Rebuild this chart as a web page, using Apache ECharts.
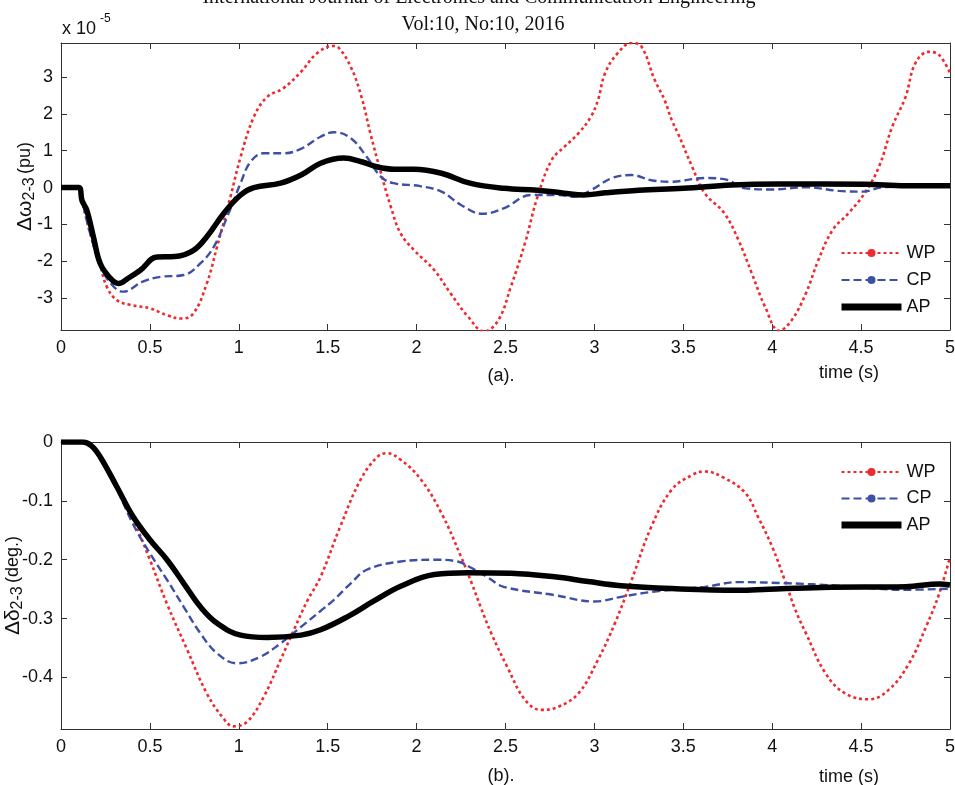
<!DOCTYPE html>
<html><head><meta charset="utf-8">
<script src="https://cdn.jsdelivr.net/npm/echarts@6/dist/echarts.min.js"></script>
<style>html,body{margin:0;padding:0;background:#fff}#c{width:955px;height:785px}</style>
</head><body><div id="c"></div>
<script>
const legendNames = ['WP', 'CP', 'AP'];
const omegaTicks = [-3, -2, -1, 0, 1, 2, 3];
const deltaTicks = [-0.4, -0.3, -0.2, -0.1, 0];

// (a) Δω2-3 (pu, x 1e-5) vs time (s)
const omegaWP = [[0,0],[0.1,0],[0.118,-0.35],[0.164,-1.24],[0.22,-2.1],[0.258,-2.69],[0.314,-3.05],[0.39,-3.18],[0.5,-3.27],[0.596,-3.46],[0.68,-3.55],[0.745,-3.41],[0.82,-2.6],[0.878,-1.6],[0.953,-0.25],[1.01,0.83],[1.085,1.92],[1.16,2.46],[1.25,2.69],[1.35,3.14],[1.44,3.64],[1.53,3.84],[1.56,3.8],[1.63,3.27],[1.69,2.46],[1.74,1.47],[1.8,0.39],[1.855,-0.52],[1.91,-1.24],[1.985,-1.69],[2.1,-2.24],[2.19,-2.86],[2.29,-3.5],[2.38,-3.9],[2.46,-3.59],[2.53,-2.69],[2.61,-1.5],[2.68,-0.25],[2.76,0.75],[2.83,1.1],[2.91,1.47],[2.98,1.92],[3.02,2.37],[3.06,3.1],[3.13,3.64],[3.21,3.92],[3.265,3.82],[3.34,2.91],[3.395,2.37],[3.435,1.83],[3.47,1.47],[3.55,0.56],[3.62,-0.15],[3.73,-0.69],[3.81,-1.42],[3.885,-2.32],[3.96,-3.23],[4.04,-3.88],[4.11,-3.59],[4.19,-2.86],[4.26,-1.96],[4.34,-1.15],[4.43,-0.69],[4.52,-0.15],[4.6,0.56],[4.675,1.65],[4.75,2.46],[4.805,3.37],[4.88,3.68],[4.94,3.59],[5,3.1]];
const omegaCP = [[0,0],[0.1,0],[0.118,-0.35],[0.164,-1.24],[0.22,-2.1],[0.28,-2.6],[0.35,-2.82],[0.46,-2.55],[0.56,-2.42],[0.69,-2.37],[0.785,-2.05],[0.86,-1.6],[0.935,-0.79],[1.01,0.12],[1.066,0.7],[1.14,0.93],[1.25,0.93],[1.35,1.05],[1.46,1.38],[1.535,1.5],[1.63,1.34],[1.72,0.83],[1.8,0.29],[1.87,0.12],[2.02,0.04],[2.14,-0.11],[2.25,-0.47],[2.37,-0.71],[2.49,-0.56],[2.645,-0.2],[2.8,-0.2],[2.89,-0.25],[2.98,-0.07],[3.1,0.26],[3.21,0.34],[3.32,0.2],[3.43,0.16],[3.62,0.26],[3.73,0.23],[3.85,-0.02],[4.0,-0.05],[4.19,0.01],[4.375,-0.09],[4.51,-0.11],[4.62,0.01],[5,0.05]];
const omegaAP = [[0,0],[0.1,0],[0.118,-0.35],[0.145,-0.61],[0.183,-1.35],[0.22,-2.05],[0.276,-2.45],[0.323,-2.6],[0.38,-2.45],[0.446,-2.24],[0.54,-1.88],[0.64,-1.87],[0.745,-1.7],[0.82,-1.33],[0.915,-0.7],[1.01,-0.2],[1.085,0.0],[1.235,0.12],[1.35,0.34],[1.46,0.66],[1.59,0.8],[1.69,0.7],[1.78,0.56],[1.875,0.5],[1.985,0.5],[2.14,0.39],[2.3,0.12],[2.49,-0.02],[2.68,-0.07],[2.83,-0.15],[2.94,-0.2],[3.06,-0.14],[3.25,-0.07],[3.5,-0.02],[3.77,0.07],[4.03,0.1],[4.52,0.09],[4.75,0.05],[5,0.05]];

// (b) Δδ2-3 (deg.) vs time (s)
const deltaWP = [[0,0],[0.12,0],[0.17,-0.006],[0.22,-0.025],[0.314,-0.078],[0.406,-0.132],[0.5,-0.2],[0.596,-0.275],[0.71,-0.353],[0.82,-0.427],[0.915,-0.47],[0.97,-0.483],[1.047,-0.475],[1.14,-0.433],[1.235,-0.37],[1.31,-0.319],[1.385,-0.27],[1.46,-0.229],[1.57,-0.144],[1.685,-0.064],[1.78,-0.025],[1.83,-0.019],[1.91,-0.03],[2.025,-0.064],[2.14,-0.121],[2.25,-0.195],[2.31,-0.24],[2.36,-0.28],[2.42,-0.325],[2.51,-0.382],[2.61,-0.438],[2.7,-0.455],[2.795,-0.45],[2.91,-0.427],[3.02,-0.37],[3.115,-0.308],[3.21,-0.234],[3.32,-0.144],[3.435,-0.081],[3.55,-0.056],[3.62,-0.05],[3.73,-0.061],[3.85,-0.087],[3.92,-0.127],[4.0,-0.178],[4.07,-0.234],[4.13,-0.285],[4.19,-0.325],[4.3,-0.393],[4.41,-0.427],[4.545,-0.437],[4.655,-0.421],[4.77,-0.376],[4.865,-0.314],[4.94,-0.257],[5.0,-0.195]];
const deltaCP = [[0,0],[0.12,0],[0.17,-0.006],[0.22,-0.025],[0.314,-0.08],[0.406,-0.14],[0.5,-0.189],[0.596,-0.234],[0.69,-0.28],[0.784,-0.325],[0.878,-0.359],[0.99,-0.376],[1.12,-0.365],[1.235,-0.342],[1.35,-0.314],[1.46,-0.287],[1.535,-0.268],[1.63,-0.24],[1.72,-0.217],[1.91,-0.203],[2.1,-0.2],[2.23,-0.203],[2.31,-0.214],[2.4,-0.23],[2.49,-0.246],[2.775,-0.26],[3.0,-0.271],[3.15,-0.263],[3.34,-0.254],[3.62,-0.246],[3.81,-0.238],[4.09,-0.24],[4.37,-0.244],[4.75,-0.251],[5,-0.249]];
const deltaAP = [[0,0],[0.12,0],[0.17,-0.006],[0.22,-0.025],[0.314,-0.076],[0.406,-0.127],[0.5,-0.166],[0.596,-0.2],[0.69,-0.24],[0.784,-0.28],[0.878,-0.308],[1.01,-0.328],[1.16,-0.332],[1.35,-0.328],[1.46,-0.319],[1.61,-0.297],[1.76,-0.27],[1.91,-0.245],[2.1,-0.225],[2.29,-0.222],[2.53,-0.223],[2.775,-0.229],[2.965,-0.237],[3.15,-0.244],[3.435,-0.249],[3.81,-0.252],[3.98,-0.25],[4.28,-0.247],[4.75,-0.246],[4.94,-0.241],[5,-0.243]];

const FONT = '"Liberation Sans", Arial, sans-serif';
const AX = '#333';
const RED = '#ee2a2e', BLUE = '#3e4fa6', BLACK = '#000';

function xAxes(g) {
  const base = {gridIndex: g, type: 'value', min: 0, max: 5, interval: 0.5,
    axisLine: {show: true, onZero: false, lineStyle: {color: AX, width: 1}},
    axisTick: {show: true, inside: true, length: 6, lineStyle: {color: AX}},
    splitLine: {show: false}};
  return [
    Object.assign({}, base, {position: 'bottom', axisLabel: {margin: 9, fontSize: 18, fontFamily: FONT, color: '#111'}}),
    Object.assign({}, base, {position: 'top', axisLabel: {show: false}})
  ];
}
function yAxes(g, min, max, ticks, name) {
  const base = {gridIndex: g, type: 'value', min: min, max: max,
    axisLine: {show: true, onZero: false, lineStyle: {color: AX, width: 1}},
    axisTick: {show: true, inside: true, length: 6, customValues: ticks, lineStyle: {color: AX}},
    splitLine: {show: false}};
  return [
    Object.assign({}, base, {position: 'left',
      axisLabel: {customValues: ticks, margin: 8, fontSize: 18, fontFamily: FONT, color: '#111'},
      name: name.text, nameLocation: 'middle', nameRotate: 90, nameGap: name.gap, nameMoveOverlap: false,
      nameTextStyle: {fontFamily: FONT, color: '#111', rich: {
        g: {fontSize: 21, fontFamily: FONT, color: '#111'},
        s: {fontSize: 16, fontFamily: FONT, color: '#111', padding: [10, 0, 0, 0]},
        t: {fontSize: 18, fontFamily: FONT, color: '#111'}}}}),
    Object.assign({}, base, {position: 'right', axisLabel: {show: false}})
  ];
}
function mkSeries(name, data, g) {
  const s = {name: name, type: 'line', data: data, xAxisIndex: g * 2, yAxisIndex: g * 2,
    smooth: 0.4, showSymbol: false, animation: false, clip: true};
  if (name === 'WP') Object.assign(s, {symbol: 'circle', symbolSize: 8, itemStyle: {color: RED}, lineStyle: {color: RED, width: 2.6, type: [3, 3]}, z: 2});
  if (name === 'CP') Object.assign(s, {symbol: 'circle', symbolSize: 8, itemStyle: {color: BLUE}, lineStyle: {color: BLUE, width: 2.4, type: [8, 4]}, z: 3});
  if (name === 'AP') Object.assign(s, {symbol: 'none', itemStyle: {color: BLACK}, lineStyle: {color: BLACK, width: 5.5}, z: 4});
  return s;
}
function mkLegend(top, gap) {
  return {orient: 'vertical', left: 833, top: top, itemWidth: 60, itemHeight: 10, itemGap: gap,
    selectedMode: false, textStyle: {fontSize: 18, fontFamily: FONT, color: '#111'},
    data: legendNames.map(n => n === 'AP' ? {name: n, lineStyle: {width: 7}, itemStyle: {opacity: 0}} : {name: n})};
}

const chart = echarts.init(document.getElementById('c'), null, {renderer: 'canvas'});
chart.setOption({
  animation: false,
  backgroundColor: '#fff',
  grid: [
    {left: 61, top: 43, width: 889, height: 287, containLabel: false, outerBoundsMode: 'none'},
    {left: 61, top: 442, width: 889, height: 287, containLabel: false, outerBoundsMode: 'none'}
  ],
  xAxis: xAxes(0).concat(xAxes(1)),
  yAxis: yAxes(0, -3.86, 3.92, omegaTicks, {text: '{g|Δω}{s|2-3} {t|(pu)}', gap: 23})
    .concat(yAxes(1, -0.4875, 0, deltaTicks, {text: '{g|Δδ}{s|2-3} {t|(deg.)}', gap: 35})),
  legend: [mkLegend(239, 9), mkLegend(458, 8.5)],
  series: [
    mkSeries('WP', omegaWP, 0), mkSeries('CP', omegaCP, 0), mkSeries('AP', omegaAP, 0),
    mkSeries('WP', deltaWP, 1), mkSeries('CP', deltaCP, 1), mkSeries('AP', deltaAP, 1)
  ],
  graphic: [
    {type: 'text', x: 479, y: -2, style: {text: 'International Journal of Electronics and Communication Engineering', font: '20px "Liberation Serif", serif', fill: '#111', textAlign: 'center', textVerticalAlign: 'middle'}},
    {type: 'text', x: 483, y: 25, style: {text: 'Vol:10, No:10, 2016', font: '20px "Liberation Serif", serif', fill: '#111', textAlign: 'center', textVerticalAlign: 'middle'}},
    {type: 'text', x: 62, y: 29, style: {text: 'x 10', font: '18px "Liberation Sans", sans-serif', fill: '#111', textAlign: 'left', textVerticalAlign: 'middle'}},
    {type: 'text', x: 100, y: 19, style: {text: '-5', font: '12px "Liberation Sans", sans-serif', fill: '#111', textAlign: 'left', textVerticalAlign: 'middle'}},
    {type: 'text', x: 501, y: 376, style: {text: '(a).', font: '18px "Liberation Sans", sans-serif', fill: '#111', textAlign: 'center', textVerticalAlign: 'middle'}},
    {type: 'text', x: 849, y: 373, style: {text: 'time (s)', font: '18px "Liberation Sans", sans-serif', fill: '#111', textAlign: 'center', textVerticalAlign: 'middle'}},
    {type: 'text', x: 501, y: 776, style: {text: '(b).', font: '18px "Liberation Sans", sans-serif', fill: '#111', textAlign: 'center', textVerticalAlign: 'middle'}},
    {type: 'text', x: 849, y: 777, style: {text: 'time (s)', font: '18px "Liberation Sans", sans-serif', fill: '#111', textAlign: 'center', textVerticalAlign: 'middle'}}
  ]
});
</script>
</body></html>
